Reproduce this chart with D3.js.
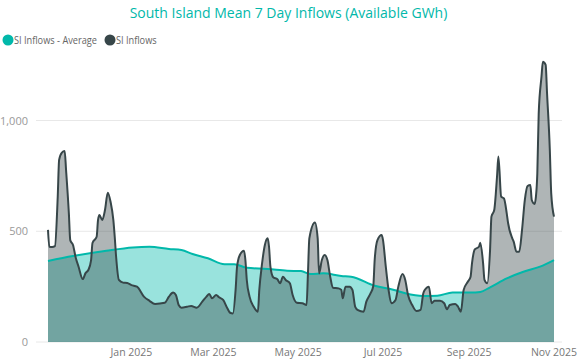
<!DOCTYPE html>
<html>
<head>
<meta charset="utf-8">
<script src="https://cdn.jsdelivr.net/npm/d3@7"></script>
<style>
  body { margin: 0; background: #fff; }
  svg { display: block; font-family: "Open Sans", "Noto Sans", sans-serif; }
</style>
</head>
<body>
<div id="vis-container"></div>
<script>
// series: SI Inflows (7 day mean, GWh)
const inflowDates = [
  "2024-11-02","2024-11-03","2024-11-05","2024-11-07","2024-11-09","2024-11-10","2024-11-12","2024-11-14",
  "2024-11-15","2024-11-17","2024-11-18","2024-11-20","2024-11-22","2024-11-24","2024-11-27","2024-11-29",
  "2024-12-01","2024-12-03","2024-12-04","2024-12-07","2024-12-08","2024-12-09","2024-12-11","2024-12-13",
  "2024-12-15","2024-12-17","2024-12-19","2024-12-20","2024-12-21","2024-12-23","2024-12-26","2024-12-29",
  "2025-01-01","2025-01-05","2025-01-10","2025-01-14","2025-01-18","2025-01-25","2025-01-28","2025-01-31",
  "2025-02-02","2025-02-04","2025-02-06","2025-02-10","2025-02-13","2025-02-17","2025-02-21","2025-02-24",
  "2025-02-26","2025-02-28","2025-03-03","2025-03-05","2025-03-08","2025-03-11","2025-03-13","2025-03-15",
  "2025-03-17","2025-03-18","2025-03-20","2025-03-23","2025-03-24","2025-03-25","2025-03-27","2025-03-30",
  "2025-04-02","2025-04-03","2025-04-05","2025-04-07","2025-04-09","2025-04-10","2025-04-11","2025-04-13",
  "2025-04-16","2025-04-18","2025-04-20","2025-04-22","2025-04-25","2025-04-27","2025-04-30","2025-05-04",
  "2025-05-07","2025-05-08","2025-05-09","2025-05-13","2025-05-15","2025-05-16","2025-05-18","2025-05-20",
  "2025-05-22","2025-05-24","2025-05-26","2025-05-30","2025-06-01","2025-06-02","2025-06-04","2025-06-07",
  "2025-06-09","2025-06-11","2025-06-13","2025-06-17","2025-06-19","2025-06-22","2025-06-24","2025-06-25",
  "2025-06-27","2025-06-30","2025-07-01","2025-07-03","2025-07-05","2025-07-07","2025-07-10","2025-07-12",
  "2025-07-15","2025-07-17","2025-07-19","2025-07-22","2025-07-25","2025-07-28","2025-07-30","2025-07-31",
  "2025-08-03","2025-08-05","2025-08-07","2025-08-11","2025-08-14","2025-08-16","2025-08-18","2025-08-22",
  "2025-08-24","2025-08-26","2025-08-28","2025-08-31","2025-09-02","2025-09-03","2025-09-05","2025-09-08",
  "2025-09-09","2025-09-11","2025-09-12","2025-09-14","2025-09-16","2025-09-17","2025-09-19","2025-09-21",
  "2025-09-22","2025-09-24","2025-09-26","2025-09-28","2025-09-29","2025-10-02","2025-10-03","2025-10-05",
  "2025-10-07","2025-10-09","2025-10-11","2025-10-13","2025-10-15","2025-10-16","2025-10-18","2025-10-19",
  "2025-10-20","2025-10-21","2025-10-23","2025-10-24","2025-10-26","2025-10-27","2025-10-29","2025-10-30",
  "2025-11-01"
];
const inflowValues = [
  506, 430, 429, 433, 656, 822, 855, 862,
  776, 582, 460, 438, 379, 340, 284, 311,
  325, 370, 447, 475, 551, 573, 551, 596,
  674, 633, 551, 475, 385, 280, 268, 266,
  257, 250, 205, 186, 172, 177, 205, 223,
  212, 167, 155, 159, 163, 155, 182, 205,
  217, 197, 212, 202, 190, 152, 132, 129,
  240, 340, 393, 412, 370, 280, 205, 159,
  137, 235, 355, 438, 468, 430, 340, 292,
  283, 265, 295, 280, 265, 212, 177, 175,
  167, 310, 468, 539, 468, 310, 370, 393,
  370, 295, 245, 242, 235, 197, 250, 250,
  235, 159, 144, 137, 182, 220, 253, 370,
  460, 483, 460, 340, 235, 175, 190, 250,
  307, 280, 212, 167, 140, 145, 220, 235,
  250, 175, 186, 186, 175, 148, 167, 172,
  159, 137, 235, 272, 295, 355, 418, 430,
  448, 355, 280, 265, 415, 566, 596, 746,
  837, 656, 648, 581, 536, 468, 453, 408,
  408, 506, 641, 704, 709, 641, 623, 656,
  762, 1032, 1198, 1265, 1251, 1123, 867, 671,
  566
];

// series: SI Inflows - Average
const avgDates = [
  "2024-11-02","2024-11-20","2024-12-14","2025-01-02","2025-01-14","2025-01-28","2025-02-06","2025-02-14",
  "2025-02-25","2025-03-09","2025-03-16","2025-03-25","2025-04-09","2025-04-23","2025-05-03","2025-05-10",
  "2025-05-19","2025-06-01","2025-06-08","2025-06-25","2025-07-09","2025-07-17","2025-07-30","2025-08-09",
  "2025-08-20","2025-09-02","2025-09-09","2025-09-16","2025-09-28","2025-10-10","2025-10-22","2025-11-01"
];
const avgValues = [
  366, 388, 412, 427, 430, 420, 415, 397,
  378, 351, 351, 335, 330, 322, 320, 307,
  310, 298, 295, 254, 235, 220, 208, 209,
  223, 223, 226, 247, 287, 317, 340, 370
];

const yTicks = [0, 500, 1000];
const xTickDates = ["2025-01-01","2025-03-01","2025-05-01","2025-07-01","2025-09-01","2025-11-01"];
const seriesNames = ["SI Inflows - Average", "SI Inflows"];
const chartTitle = "South Island Mean 7 Day Inflows (Available GWh)";

const W = 577, H = 364;
const teal = "#01B8AA", dark = "#374649";
const parse = d3.utcParse("%Y-%m-%d");

const inflows = inflowDates.map((d, i) => ({date: parse(d), value: inflowValues[i]}));
const average = avgDates.map((d, i) => ({date: parse(d), value: avgValues[i]}));

const svg = d3.select("#vis-container").append("svg")
    .attr("width", W).attr("height", H);

const x = d3.scaleUtc()
    .domain(d3.extent(inflows, d => d.date))
    .range([48, 554]);
const y = d3.scaleLinear()
    .domain([0, 1000])
    .range([342, 120.5]);

// title, stretched to the reference width
const title = svg.append("text")
    .attr("x", W / 2).attr("y", 18)
    .attr("text-anchor", "middle")
    .attr("fill", teal)
    .attr("font-size", 14)
    .text(chartTitle);
let tw = title.node().getComputedTextLength();
title.attr("font-size", 14 * 318 / tw);

// legend: 11px text, squeezed so the first label is ~83px wide (narrow UI font in the original)
const legend = svg.append("g").attr("transform", "translate(0,40)");
let squeeze = null;
let lx = 8;
seriesNames.forEach((name, i) => {
    legend.append("circle").attr("cx", lx).attr("cy", 0).attr("r", 5.5)
        .attr("fill", i === 0 ? teal : dark);
    const t = legend.append("text").attr("x", lx + 6).attr("y", 4)
        .attr("fill", "#666").attr("font-size", 11).text(name);
    const w0 = t.node().getComputedTextLength();
    if (squeeze === null) squeeze = 83 / w0;
    const w = w0 * squeeze;
    t.attr("textLength", w).attr("lengthAdjust", "spacingAndGlyphs");
    lx += 6 + w + 13;
});

// gridlines + y labels
svg.append("g").selectAll("line").data(yTicks).join("line")
    .attr("x1", 36).attr("x2", 562)
    .attr("y1", d => y(d)).attr("y2", d => y(d))
    .attr("stroke", "#e8e8e8").attr("stroke-width", 1);
svg.append("g").selectAll("text").data(yTicks).join("text")
    .attr("x", 28).attr("y", d => y(d) + 4)
    .attr("text-anchor", "end")
    .attr("fill", "#999").attr("font-size", 11)
    .text(d => d3.format(",")(d));

// x labels
svg.append("g").selectAll("text").data(xTickDates.map(parse)).join("text")
    .attr("x", d => x(d)).attr("y", 356)
    .attr("text-anchor", "middle")
    .attr("fill", "#777").attr("font-size", 10.5)
    .text(d => d3.utcFormat("%b %Y")(d));

const curve = d3.curveMonotoneX;
const area = d3.area().curve(curve).x(d => x(d.date)).y0(y(0)).y1(d => y(d.value));
const line = d3.line().curve(curve).x(d => x(d.date)).y(d => y(d.value));

svg.append("path").datum(average).attr("d", area)
    .attr("fill", teal).attr("fill-opacity", 0.4);
svg.append("path").datum(inflows).attr("d", area)
    .attr("fill", dark).attr("fill-opacity", 0.4);
svg.append("path").datum(average).attr("d", line)
    .attr("fill", "none").attr("stroke", teal).attr("stroke-width", 2);
svg.append("path").datum(inflows).attr("d", line)
    .attr("fill", "none").attr("stroke", dark).attr("stroke-width", 2)
    .attr("stroke-linejoin", "round");
</script>
</body>
</html>
